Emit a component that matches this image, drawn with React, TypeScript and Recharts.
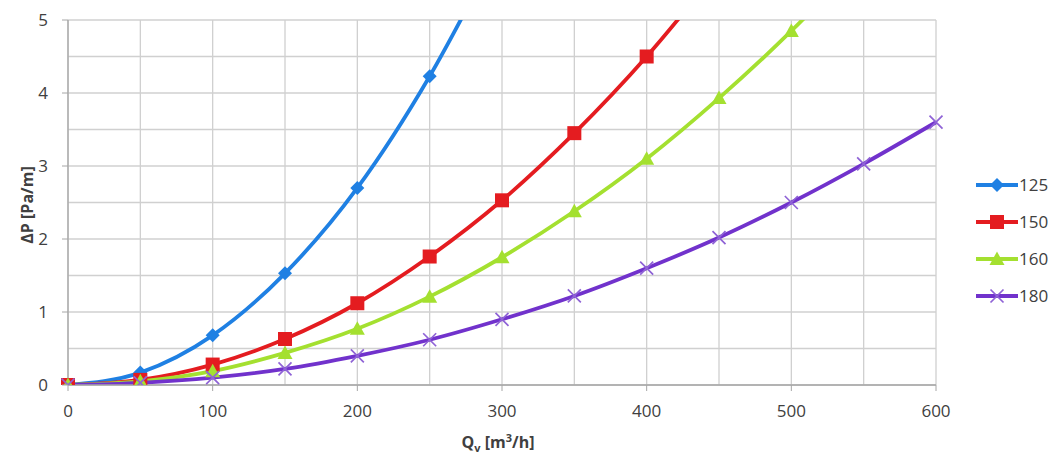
import React from "react";
import { LineChart, Line, XAxis, YAxis, CartesianGrid } from "recharts";

const flow = [0, 50, 100, 150, 200, 250, 300, 350, 400, 450, 500, 550, 600];
const dp125 = [0, 0.17, 0.68, 1.53, 2.7, 4.23, 6.09];
const dp150 = [0, 0.07, 0.28, 0.63, 1.12, 1.76, 2.53, 3.45, 4.5, 5.7];
const dp160 = [0, 0.05, 0.19, 0.44, 0.77, 1.21, 1.75, 2.38, 3.1, 3.93, 4.85, 5.87];
const dp180 = [0, 0.03, 0.1, 0.22, 0.4, 0.62, 0.9, 1.22, 1.6, 2.02, 2.5, 3.03, 3.6];

const xTicks = [0, 50, 100, 150, 200, 250, 300, 350, 400, 450, 500, 550, 600];
const yTicks = [0, 0.5, 1, 1.5, 2, 2.5, 3, 3.5, 4, 4.5, 5];

const data = flow.map((q, i) => ({
  q,
  d125: dp125[i],
  d150: dp150[i],
  d160: dp160[i],
  d180: dp180[i],
}));

const FONT = "'Open Sans', sans-serif";
const AXIS = "#a6a6a6";

type Shape = "diamond" | "square" | "triangle" | "cross";

const series: { key: string; name: string; color: string; shape: Shape }[] = [
  { key: "d125", name: "125", color: "#1f80e3", shape: "diamond" },
  { key: "d150", name: "150", color: "#e41c20", shape: "square" },
  { key: "d160", name: "160", color: "#a4e030", shape: "triangle" },
  { key: "d180", name: "180", color: "#7132cc", shape: "cross" },
];

function marker(shape: Shape, color: string, cx: number, cy: number) {
  if (shape === "diamond") {
    const r = 7;
    return <path d={`M${cx},${cy - r}L${cx + r},${cy}L${cx},${cy + r}L${cx - r},${cy}Z`} fill={color} />;
  }
  if (shape === "square") {
    const r = 7;
    return <rect x={cx - r} y={cy - r} width={2 * r} height={2 * r} fill={color} />;
  }
  if (shape === "triangle") {
    const r = 7.5;
    return <path d={`M${cx},${cy - r}L${cx + r},${cy + r * 0.8}L${cx - r},${cy + r * 0.8}Z`} fill={color} />;
  }
  const r = 6.5;
  return (
    <path
      d={`M${cx - r},${cy - r}L${cx + r},${cy + r}M${cx + r},${cy - r}L${cx - r},${cy + r}`}
      stroke="#8f63d6"
      strokeWidth={1.7}
      fill="none"
    />
  );
}

const makeDot = (shape: Shape, color: string) => (props: any) => {
  const { cx, cy, value, index } = props;
  if (cx == null || cy == null || value == null) return <g key={index} />;
  return <g key={index}>{marker(shape, color, cx, cy)}</g>;
};

const YTick = (props: any) => {
  const { x, y, payload } = props;
  const v = payload.value;
  if (v % 1 !== 0) return <g />;
  return (
    <g>
      <line x1={x + 14} x2={x + 20} y1={y} y2={y} stroke={AXIS} />
      <text x={x} y={y} dy="0.36em" textAnchor="end" fontSize={17} fill="#404040" fontFamily={FONT}>
        {v}
      </text>
    </g>
  );
};

const XTick = (props: any) => {
  const { x, y, payload } = props;
  const v = payload.value;
  if (v % 100 !== 0) return <g />;
  return (
    <g>
      <line x1={x} x2={x} y1={y - 20} y2={y - 14} stroke={AXIS} />
      <text x={x} y={y} dy="0.71em" textAnchor="middle" fontSize={17} fill="#404040" fontFamily={FONT}>
        {v}
      </text>
    </g>
  );
};

const LegendBox = () => (
  <div style={{ position: "absolute", left: 968, top: 158, width: 76, fontFamily: FONT }}>
    {series.map((s) => (
      <div key={s.key} style={{ display: "flex", alignItems: "center", height: 37, whiteSpace: "nowrap" }}>
        <svg width={42} height={20} style={{ flexShrink: 0 }}>
          <line x1={0} x2={42} y1={10} y2={10} stroke={s.color} strokeWidth={3.8} />
          {marker(s.shape, s.color, 21, 10)}
        </svg>
        <span style={{ fontSize: 17, color: "#404040", marginLeft: 1, flexShrink: 0 }}>{s.name}</span>
      </div>
    ))}
  </div>
);

export default function App() {
  return (
    <div style={{ position: "relative", width: 1044, height: 446 }}>
      <style>{"html,body{overflow:hidden}"}</style>
      <LineChart
        width={1044}
        height={446}
        data={data}
        margin={{ top: 12, right: 116, bottom: 0, left: 0 }}
      >
        <CartesianGrid stroke="#d0d0d0" strokeWidth={1.3} />
        <XAxis
          dataKey="q"
          type="number"
          domain={[0, 600]}
          ticks={xTicks}
          interval={0}
          height={69}
          tickSize={6}
          tickMargin={14}
          tickLine={false}
          axisLine={{ stroke: AXIS, strokeWidth: 1.3 }}
          tick={<XTick />}
        />
        <YAxis
          type="number"
          domain={[0, 5]}
          allowDataOverflow
          ticks={yTicks}
          interval={0}
          width={60}
          tickSize={6}
          tickMargin={14}
          tickLine={false}
          axisLine={{ stroke: AXIS, strokeWidth: 1.3 }}
          tick={<YTick />}
        />
        {series.map((s) => (
          <Line
            key={s.key}
            dataKey={s.key}
            name={s.name}
            type="monotone"
            stroke={s.color}
            strokeWidth={3.8}
            dot={makeDot(s.shape, s.color)}
            activeDot={false}
            isAnimationActive={false}
          />
        ))}
        <text
          x={19}
          y={197}
          transform="rotate(-90 19 197)"
          textAnchor="middle"
          dominantBaseline="central"
          fontSize={16}
          fontWeight="bold"
          fill="#404040"
          fontFamily={FONT}
        >
          ΔP [Pa/m]
        </text>
        <text x={490} y={440} textAnchor="middle" fontSize={16} fontWeight="bold" fill="#404040" fontFamily={FONT}>
          Q
          <tspan fontSize={11} dy={4}>v</tspan>
          <tspan dy={-4}> [m</tspan>
          <tspan fontSize={11} dy={-6}>3</tspan>
          <tspan dy={6}>/h]</tspan>
        </text>
      </LineChart>
      <LegendBox />
    </div>
  );
}
